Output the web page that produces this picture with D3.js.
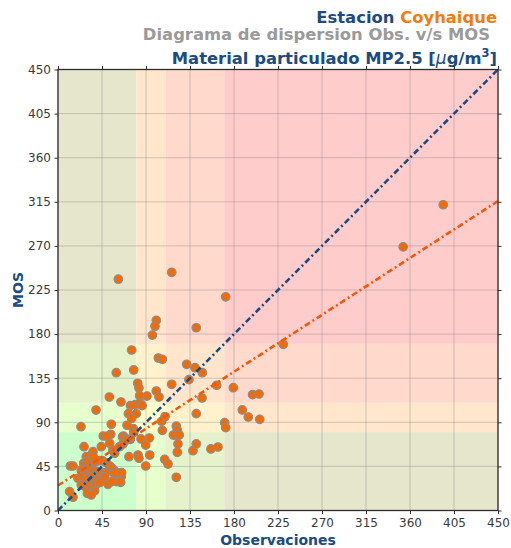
<!DOCTYPE html>
<html>
<head>
<meta charset="utf-8">
<script src="https://cdn.jsdelivr.net/npm/d3@7"></script>
<style>
  body { margin: 0; background: #fff; }
  text { font-family: "DejaVu Sans", sans-serif; }
</style>
</head>
<body>
<svg id="chart" width="511" height="548"></svg>
<script>
// Observed vs forecast (MOS) PM2.5 concentrations, µg/m3
const obs = [
  61.7, 116.3, 171.5, 100.5, 99.2, 96.5, 141.4, 230.4, 75.3, 102.6,
  106.7, 131.6, 140.1, 147.6, 77.4, 59.6, 133.9, 116.3, 81.5, 82.8,
  100.5, 103.3, 91, 83.5, 52.5, 64.4, 179.3, 199, 205.6, 147.3,
  74, 79, 84, 86, 72, 80, 75.3, 38.9, 54.5, 70.6,
  46.3, 53.9, 66.8, 77, 77.4, 84.9, 93.4, 106, 109.4, 106.7,
  121, 122, 121, 118, 124, 141.4, 170.5, 171.5, 188.5, 194.6,
  206.3, 162.3, 23.5, 353, 394, 156.4, 163.6, 50, 66, 69.5,
  74,
  12.6, 15.3, 11.9, 15.3, 26.6, 33.4, 28.9, 35.8, 26.3, 29.3,
  32.4, 35.8, 38.5, 23.8, 26.5, 29.3, 32.7, 36.1, 39.5, 41.9,
  44.5, 46.9, 20.4, 25.6, 28.9, 32.4, 35.8, 38.1, 40.9, 43.7,
  23.8, 27.9, 32.4, 35.8, 39.2, 42.6, 32.4, 37.5, 30, 34,
  51.1, 48.8, 47.8, 45.3, 49.4, 52.9, 55.5, 59, 61.3, 64.7,
  64.1, 59.6, 44.3, 52.9, 56.2, 58, 63, 66.5, 69.8, 72.6,
  81.8, 82.8, 89.7, 93.8, 89.7, 109.1, 112.5, 121, 122.7, 122,
  138, 141.4, 54.9, 63.4, 57.3, 65.1, 42.3, 36.1
];
const mos = [
  236, 243, 218, 194, 188, 179, 186.5, 169.6, 163.8, 155.6,
  154.3, 149.2, 145.7, 140.6, 143.4, 140.6, 133.5, 128.8, 129.8, 125,
  121.9, 115.8, 116.8, 117.1, 115.8, 110.7, 125.3, 118.2, 118.9, 114.8,
  107, 108, 110, 107, 98.8, 98.8, 94, 102.5, 88, 87,
  76, 77.8, 76, 83.5, 79.4, 73, 74, 91, 95.7, 81.8,
  86, 82, 77, 77, 77, 98.8, 89.6, 84.5, 102.6, 95.4,
  93, 127.8, 85.5, 269, 312, 62.8, 64.8, 75.7, 75, 73.3,
  72.6,
  45.4, 45.4, 19.2, 13.5, 65.1, 55.6, 54.9, 60, 48.2, 49.8,
  48.8, 47.4, 49.8, 41.3, 39.6, 38.6, 41.9, 40.6, 39.6, 37.9,
  36.2, 38.6, 32.9, 34.5, 31.8, 32.9, 33.9, 31.1, 31.8, 29.4,
  26, 24.3, 26, 24.3, 27, 28.4, 20.9, 20.2, 17.5, 15.8,
  26.7, 38.6, 34.5, 50.8, 48.8, 45.4, 43, 39.6, 37.2, 34.5,
  28.8, 29.4, 65.1, 68.6, 61.7, 58.4, 65.1, 67.9, 71.9, 54.9,
  56.6, 53.3, 66.8, 56.6, 45.4, 52.2, 47.4, 33.9, 67.9, 59.4,
  61, 67.9, 29.4, 29.4, 38, 38.6, 50.8, 54.6
];
const tickValues = [0, 45, 90, 135, 180, 225, 270, 315, 360, 405, 450];
// Air-quality level limits and their colours (good, alert, pre-emergency, emergency)
const levelBreaks = [0, 80, 110, 170, 450];
const levelColors = ["#ccffcc", "#ffffcc", "#ffe5cc", "#ffcccc"];
// Least-squares fit of MOS on observations
const fitIntercept = 25.5;
const fitSlope = 0.645;

const svg = d3.select("#chart");
const plotLeft = 58, plotRight = 498, plotTop = 69.5, plotBottom = 510.5;
const x = d3.scaleLinear().domain([0, 450]).range([plotLeft, plotRight]);
const y = d3.scaleLinear().domain([0, 450]).range([plotBottom, plotTop]);

const blue = "#1b4b80";
const orange = "#f07d0c";

// Background cells: each cell mixes the level colour of its column and row
const cells = [];
for (let i = 0; i < levelColors.length; i++) {
  for (let j = 0; j < levelColors.length; j++) {
    cells.push({
      x0: levelBreaks[i], x1: levelBreaks[i + 1],
      y0: levelBreaks[j], y1: levelBreaks[j + 1],
      color: d3.interpolateRgb(levelColors[i], levelColors[j])(0.5)
    });
  }
}
svg.append("g").selectAll("rect").data(cells).join("rect")
  .attr("x", d => x(d.x0))
  .attr("y", d => y(d.y1))
  .attr("width", d => x(d.x1) - x(d.x0))
  .attr("height", d => y(d.y0) - y(d.y1))
  .attr("fill", d => d.color);

// Grid
const grid = svg.append("g").attr("stroke", "#7a7a7a").attr("stroke-opacity", 0.35).attr("stroke-width", 1);
grid.selectAll(".gx").data(tickValues).join("line").attr("class", "gx")
  .attr("x1", d => x(d)).attr("x2", d => x(d))
  .attr("y1", plotTop).attr("y2", plotBottom);
grid.selectAll(".gy").data(tickValues).join("line").attr("class", "gy")
  .attr("y1", d => y(d)).attr("y2", d => y(d))
  .attr("x1", plotLeft).attr("x2", plotRight);

// Points
const pts = obs.map((o, i) => ({ o, m: mos[i] }));
svg.append("g").selectAll("circle").data(pts).join("circle")
  .attr("cx", d => x(d.o))
  .attr("cy", d => y(d.m))
  .attr("r", 4.3)
  .attr("fill", "#ef6c0a")
  .attr("stroke", "#8c8c8c")
  .attr("stroke-width", 1.1);

// Reference lines, clipped to the plotting area
svg.append("clipPath").attr("id", "plotClip")
  .append("rect").attr("x", plotLeft).attr("y", plotTop)
  .attr("width", plotRight - plotLeft).attr("height", plotBottom - plotTop);
const lines = svg.append("g").attr("clip-path", "url(#plotClip)");
lines.append("line")
  .attr("x1", x(0)).attr("y1", y(0))
  .attr("x2", x(450)).attr("y2", y(450))
  .attr("stroke", blue).attr("stroke-width", 2.6)
  .attr("stroke-dasharray", "6,3,2,3");
lines.append("line")
  .attr("x1", x(0)).attr("y1", y(fitIntercept))
  .attr("x2", x(450)).attr("y2", y(fitIntercept + fitSlope * 450))
  .attr("stroke", "#f2580a").attr("stroke-width", 2.6)
  .attr("stroke-dasharray", "6,3,2,3");

// Frame
svg.append("rect")
  .attr("x", plotLeft).attr("y", plotTop)
  .attr("width", plotRight - plotLeft).attr("height", plotBottom - plotTop)
  .attr("fill", "none").attr("stroke", "#2f2f2f").attr("stroke-width", 1.3);

// Axes
function styleAxis(g) {
  g.select(".domain").remove();
  g.selectAll(".tick line").attr("stroke", "#2f2f2f").attr("stroke-width", 1);
  g.selectAll(".tick text").attr("fill", "#3a3a3a")
    .style("font-size", "12px").style("font-family", "DejaVu Sans, sans-serif");
}
svg.append("g").attr("transform", `translate(0,${plotBottom})`)
  .call(d3.axisBottom(x).tickValues(tickValues).tickSize(3.5).tickPadding(4))
  .call(styleAxis);
svg.append("g").attr("transform", `translate(${plotLeft},0)`)
  .call(d3.axisLeft(y).tickValues(tickValues).tickSize(3.5).tickPadding(3.5))
  .call(styleAxis);
svg.append("g").attr("transform", `translate(0,${plotTop})`)
  .call(d3.axisTop(x).tickValues(tickValues).tickSize(3.5).tickFormat(""))
  .call(styleAxis);
svg.append("g").attr("transform", `translate(${plotRight},0)`)
  .call(d3.axisRight(y).tickValues(tickValues).tickSize(3.5).tickFormat(""))
  .call(styleAxis);

// Axis titles
svg.append("text")
  .attr("x", (plotLeft + plotRight) / 2).attr("y", 545)
  .attr("text-anchor", "middle")
  .attr("fill", blue).attr("font-weight", "bold").attr("font-size", 14)
  .text("Observaciones");
svg.append("text")
  .attr("transform", `translate(22.5,${(plotTop + plotBottom) / 2}) rotate(-90)`)
  .attr("text-anchor", "middle")
  .attr("fill", blue).attr("font-weight", "bold").attr("font-size", 14)
  .text("MOS");

// Title block
const t1 = svg.append("text")
  .attr("x", 497).attr("y", 22.5)
  .attr("text-anchor", "end").attr("font-weight", "bold").attr("font-size", 16.4);
t1.append("tspan").attr("fill", blue).text("Estacion ");
t1.append("tspan").attr("fill", orange).text("Coyhaique");

svg.append("text")
  .attr("x", 490).attr("y", 40)
  .attr("text-anchor", "end").attr("font-weight", "bold").attr("font-size", 16.4)
  .attr("fill", "#9a9a9a")
  .text("Diagrama de dispersion Obs. v/s MOS");

const t3 = svg.append("text")
  .attr("x", 497).attr("y", 64)
  .attr("text-anchor", "end").attr("font-weight", "bold").attr("font-size", 16.4)
  .attr("fill", blue);
t3.append("tspan").text("Material particulado MP2.5 [");
t3.append("tspan").attr("font-style", "italic").attr("font-weight", "normal").attr("font-size", 17).text("\u03bc");
t3.append("tspan").text("g/m");
t3.append("tspan").attr("font-size", 11.5).attr("dy", -7).text("3");
t3.append("tspan").attr("dy", 7).text("]");
</script>
</body>
</html>
